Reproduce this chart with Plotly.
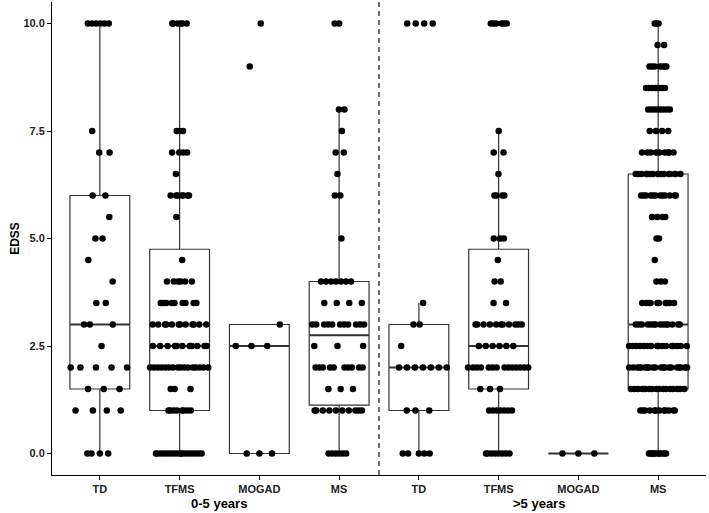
import numpy as np
import plotly.graph_objects as go

# EDSS levels and dot counts per level for each group
EDSS_LEVELS = [0, 1, 1.5, 2, 2.5, 3, 3.5, 4, 4.5, 5, 5.5, 6, 6.5, 7, 7.5, 8, 8.5, 9, 9.5, 10]

td_early = [4, 4, 3, 5, 1, 3, 2, 1, 1, 2, 1, 2, 0, 2, 1, 0, 0, 0, 0, 6]
tfms_early = [17, 8, 3, 16, 11, 12, 9, 6, 1, 0, 1, 7, 1, 4, 3, 0, 0, 0, 0, 6]
mogad_early = [3, 0, 0, 0, 3, 1, 0, 0, 0, 0, 0, 0, 0, 0, 0, 0, 0, 1, 0, 1]
ms_early = [6, 10, 3, 10, 3, 11, 4, 7, 0, 1, 0, 2, 1, 2, 1, 2, 0, 0, 0, 2]
td_late = [5, 3, 0, 7, 1, 2, 1, 0, 0, 0, 0, 0, 0, 0, 0, 0, 0, 0, 0, 4]
tfms_late = [8, 7, 3, 14, 6, 11, 2, 2, 1, 3, 0, 4, 1, 2, 1, 0, 0, 0, 0, 6]
mogad_late = [3, 0, 0, 0, 0, 0, 0, 0, 0, 0, 0, 0, 0, 0, 0, 0, 0, 0, 0, 0]
ms_late = [12, 12, 16, 20, 16, 14, 10, 3, 1, 2, 4, 12, 16, 9, 4, 8, 7, 7, 2, 3]

groups = [td_early, tfms_early, mogad_early, ms_early,
          td_late, tfms_late, mogad_late, ms_late]
tick_labels = ['TD', 'TFMS', 'MOGAD', 'MS', 'TD', 'TFMS', 'MOGAD', 'MS']
period_labels = ['0-5 years', '>5 years']

# box statistics
box_q1 = [1.5, 1.0, 0, 1.125, 1.0, 1.5, 0, 1.5]
box_median = [3.0, 2.5, 2.5, 2.75, 2.0, 2.5, 0, 3.0]
box_q3 = [6.0, 4.75, 3.0, 4.0, 3.0, 4.75, 0, 6.5]
box_low = [0, 0, 0, 0, 0, 0, 0, 0]
box_high = [10, 10, 3.0, 8.0, 3.5, 7.5, 0, 10]


def van_der_corput(n):
    out = []
    for i in range(1, n + 1):
        v, denom, k = 0.0, 1.0, i
        while k:
            denom *= 2
            v += (k % 2) / denom
            k //= 2
        out.append(v)
    return np.array(out)


def bw_nrd0(x):
    hi = np.std(x, ddof=1) if len(x) > 1 else 0
    q75, q25 = np.percentile(x, [75, 25])
    lo = min(hi, (q75 - q25) / 1.34)
    if not lo:
        lo = hi or abs(x[0]) or 1
    return 0.9 * lo * len(x) ** -0.2


def quasirandom(y, width=0.4, adjust=0.5):
    # same idea as ggbeeswarm::geom_quasirandom
    y = np.sort(np.asarray(y, dtype=float))
    bw = adjust * bw_nrd0(y)
    grid = np.linspace(y.min() - 3 * bw, y.max() + 3 * bw, 1024)
    kde = lambda t: np.exp(-0.5 * ((t[:, None] - y[None, :]) / bw) ** 2).sum(1)
    d = kde(y) / kde(grid).max()
    return y, (van_der_corput(len(y)) - 0.5) * 2 * d * width


fig = go.Figure()

positions = list(range(1, len(groups) + 1))

fig.add_trace(go.Box(
    x=positions, q1=box_q1, median=box_median, q3=box_q3,
    lowerfence=box_low, upperfence=box_high,
    width=0.75, whiskerwidth=0, boxpoints=False,
    fillcolor='white', line=dict(color='#333333', width=1.2),
    hoverinfo='skip',
))

# thicker median bars like ggplot
mx, my = [], []
for p, m in zip(positions, box_median):
    mx += [p - 0.375, p + 0.375, None]
    my += [m, m, None]
fig.add_trace(go.Scatter(x=mx, y=my, mode='lines',
                         line=dict(color='#333333', width=2.2), hoverinfo='skip'))

for p, counts in zip(positions, groups):
    vals = np.repeat(EDSS_LEVELS, counts)
    ys, offs = quasirandom(vals)
    fig.add_trace(go.Scatter(
        x=p + offs, y=ys, mode='markers',
        marker=dict(color='black', size=6.5, line=dict(width=0)),
        hoverinfo='skip',
    ))

fig.add_shape(type='line', x0=4.5, x1=4.5, xref='x', y0=0, y1=1, yref='paper',
              line=dict(color='#333333', width=1.4, dash='5px,4px'))

for i, lab in enumerate(period_labels):
    fig.add_annotation(x=2.5 + 4 * i, y=-0.06, xref='x', yref='paper',
                       text=lab, showarrow=False, yanchor='middle',
                       font=dict(size=13, weight='bold', color='black'))

fig.update_layout(
    width=709, height=513,
    margin=dict(l=52, r=3, t=2, b=38),
    plot_bgcolor='white', paper_bgcolor='white',
    showlegend=False,
    font=dict(family='Liberation Sans, Arial, sans-serif', color='black'),
)
fig.update_xaxes(
    range=[0.4, 8.6], tickvals=positions, ticktext=tick_labels,
    showline=True, linecolor='black', linewidth=1,
    ticks='outside', ticklen=4, tickcolor='black',
    tickfont=dict(size=11, weight='bold', color='#222222'),
    showgrid=False, zeroline=False,
)
fig.update_yaxes(
    range=[-0.5, 10.5], tickvals=[0, 2.5, 5, 7.5, 10],
    ticktext=['0.0', '2.5', '5.0', '7.5', '10.0'],
    showline=True, linecolor='black', linewidth=1,
    ticks='outside', ticklen=4, tickcolor='black',
    tickfont=dict(size=11, weight='bold', color='#222222'),
    title=dict(text='EDSS', font=dict(size=12, weight='bold'), standoff=1),
    showgrid=False, zeroline=False,
)

fig.write_html('out.html', config={'displayModeBar': False},
               post_script="document.body.style.margin='0';")
